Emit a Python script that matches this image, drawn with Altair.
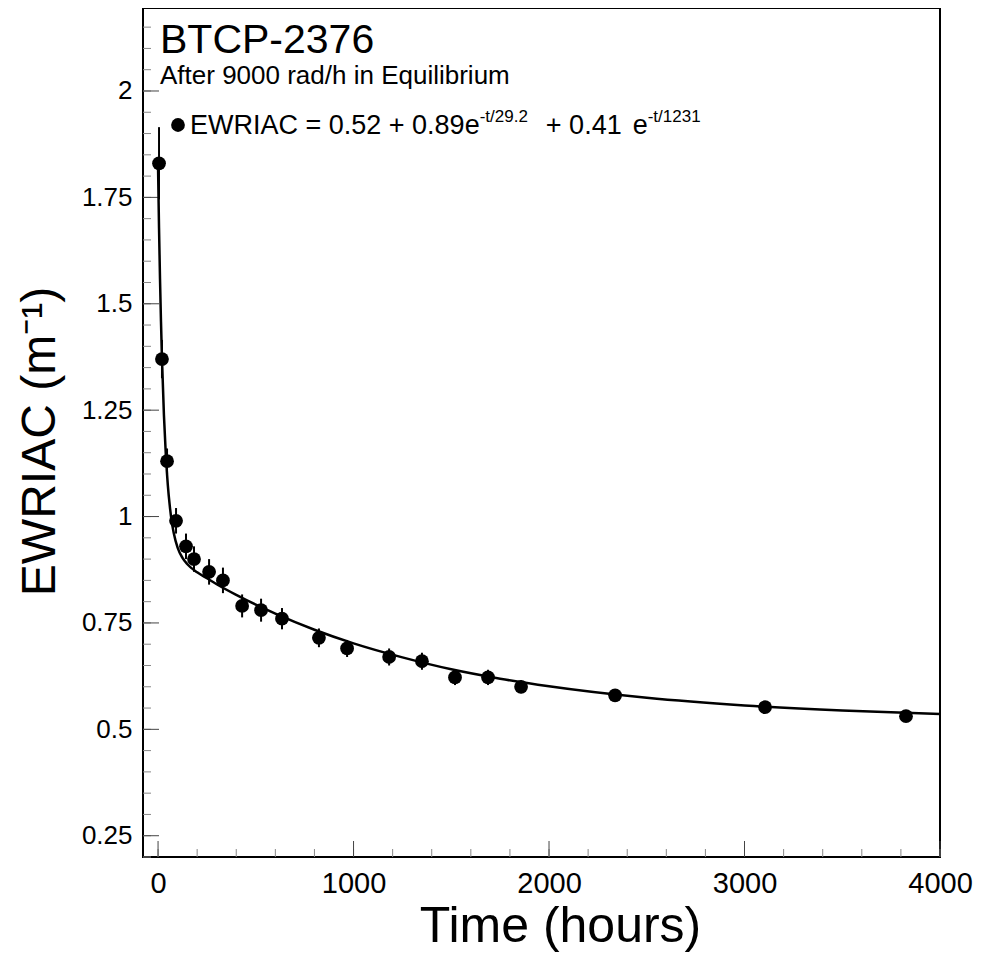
import altair as alt
import pandas as pd

# ---- data ----
time_h = [5, 20, 46, 92, 143, 184, 261, 332, 430, 527, 634, 823, 967, 1182,
          1350, 1519, 1688, 1857, 2338, 3105, 3826]
ewriac = [1.83, 1.37, 1.13, 0.99, 0.93, 0.90, 0.87, 0.85, 0.79, 0.78, 0.76,
          0.715, 0.69, 0.67, 0.66, 0.622, 0.622, 0.60, 0.58, 0.552, 0.531]
ewriac_err = [0.085, 0.045, 0.03, 0.03, 0.03, 0.03, 0.03, 0.03, 0.027, 0.027,
              0.025, 0.022, 0.02, 0.02, 0.02, 0.018, 0.018, 0.015, 0.013, 0.01, 0.01]

# fitted curve as drawn
fit_t = [0, 5, 10, 15, 20, 30, 40, 50, 60, 70, 80, 100, 125, 150, 200, 250, 300,
         400, 500, 600, 800, 1000, 1250, 1500, 1750, 2000, 2500, 3000, 3500, 4000]
fit_y = [1.820, 1.678, 1.559, 1.458, 1.372, 1.239, 1.143, 1.074, 1.025, 0.988,
         0.962, 0.927, 0.903, 0.888, 0.869, 0.855, 0.841, 0.816, 0.793, 0.772,
         0.734, 0.702, 0.669, 0.641, 0.619, 0.601, 0.574, 0.556, 0.544, 0.536]

y_major = [0.25, 0.5, 0.75, 1.0, 1.25, 1.5, 1.75, 2.0]
y_minor = [round(0.2 + 0.05 * i, 2) for i in range(40)]
x_major = [0, 1000, 2000, 3000, 4000]
x_minor = list(range(0, 4001, 200))

title_text = "BTCP-2376"
subtitle_text = "After 9000 rad/h in Equilibrium"
legend_parts = ["EWRIAC = 0.52 + 0.89e", "-t/29.2", "+ 0.41", "e", "-t/1231"]

FONT = "Liberation Sans"
W, H = 797, 849
xs = alt.Scale(domain=[-77, 4000], nice=False, zero=False)
ys = alt.Scale(domain=[0.2, 2.195], nice=False, zero=False)

X_AXIS = alt.Axis(
    values=x_major, format="d", tickSize=0, domain=False, grid=False,
    labelFont=FONT, labelFontSize=29, labelColor="black", labelPadding=12,
    labelFlush=False, labelOverlap=False,
    title="Time (hours)", titleFont=FONT, titleFontSize=50, titleFontWeight="normal",
    titleColor="black", titleAlign="center", titleAnchor="start", titleX=417, titleY=84,
    titleBaseline="alphabetic")
Y_AXIS = alt.Axis(
    values=y_major, format=".2~f", tickSize=0, domain=False, grid=False,
    labelFont=FONT, labelFontSize=26, labelColor="black", labelPadding=11,
    labelFlush=False, labelOverlap=False,
    title="EWRIAC (m\u207b\u00b9)", titleFont=FONT, titleFontSize=48,
    titleFontWeight="normal", titleColor="black", titleAngle=270,
    titleAlign="center", titleAnchor="start", titleX=-103, titleY=433,
    titleBaseline="middle")

AW = {' ': 278, '-': 333, '.': 278, '/': 278, '=': 584, '+': 584, 'e': 556, 't': 278,
      'E': 667, 'W': 944, 'R': 722, 'I': 278, 'A': 667, 'C': 722}


def tw(s, size):
    return sum(AW.get(c, 556) for c in s) * size / 1000.0


df = pd.DataFrame({"t": time_h, "v": ewriac, "e": ewriac_err})
fit = pd.DataFrame({"t": fit_t, "v": fit_y})
one = pd.DataFrame({"a": [0]})


def X(f):
    return alt.X(f, type="quantitative", scale=xs, axis=X_AXIS)


def Y(f):
    return alt.Y(f, type="quantitative", scale=ys, axis=Y_AXIS)


points = alt.Chart(df).mark_circle(size=190, color="black", opacity=1).encode(
    x=X("t"), y=Y("v"))

errbars = alt.Chart(df).transform_calculate(
    lo="datum.v - datum.e", hi="datum.v + datum.e"
).mark_rule(color="black", strokeWidth=2).encode(
    x=X("t"), y=Y("lo"), y2="hi:Q")

curve = alt.Chart(fit).mark_line(color="black", strokeWidth=2.5, interpolate="monotone").encode(
    x=X("t"), y=Y("v"))

ymaj = alt.Chart(pd.DataFrame({"v": y_major})).mark_rule(color="#444", strokeWidth=1).encode(
    y=Y("v"), x=alt.value(0), x2=alt.value(16))
ymin = alt.Chart(pd.DataFrame({"v": y_minor})).mark_rule(color="#888", strokeWidth=1).encode(
    y=Y("v"), x=alt.value(0), x2=alt.value(8))
xmaj = alt.Chart(pd.DataFrame({"t": x_major})).mark_rule(color="#444", strokeWidth=1).encode(
    x=X("t"), y=alt.value(H), y2=alt.value(H - 16))
xmin = alt.Chart(pd.DataFrame({"t": x_minor})).mark_rule(color="#888", strokeWidth=1).encode(
    x=X("t"), y=alt.value(H), y2=alt.value(H - 8))

# ---- texts ----
t1 = alt.Chart(one).mark_text(text=title_text, font=FONT, fontSize=41, align="left",
                              baseline="alphabetic", color="black").encode(
    x=alt.value(17), y=alt.value(45))
t2 = alt.Chart(one).mark_text(text=subtitle_text, font=FONT, fontSize=26, align="left",
                              baseline="alphabetic", color="black").encode(
    x=alt.value(17), y=alt.value(76))

MAIN, SUP = 27, 17
base_y = 126
sup_y = base_y - 12
x0 = 47
x_sup1 = x0 + tw(legend_parts[0], MAIN)
x_plus = x_sup1 + tw(legend_parts[1], SUP) + 18
x_e = x_plus + tw(legend_parts[2], MAIN) + 11
x_sup2 = x_e + tw(legend_parts[3], MAIN)

bullet = alt.Chart(one).mark_circle(size=190, color="black", opacity=1).encode(
    x=alt.value(35), y=alt.value(117))


def seg(txt, x, y, size):
    return alt.Chart(one).mark_text(text=txt, font=FONT, fontSize=size, align="left",
                                    baseline="alphabetic", color="black").encode(
        x=alt.value(x), y=alt.value(y))


legend = [
    seg(legend_parts[0], x0, base_y, MAIN),
    seg(legend_parts[1], x_sup1, sup_y, SUP),
    seg(legend_parts[2], x_plus, base_y, MAIN),
    seg(legend_parts[3], x_e, base_y, MAIN),
    seg(legend_parts[4], x_sup2, sup_y, SUP),
]

chart = alt.layer(
    ymin, ymaj, xmin, xmaj, curve, errbars, points, t1, t2, bullet, *legend
).properties(
    width=W, height=H,
    autosize=alt.AutoSizeParams(type="none"),
    padding={"left": 135, "top": 0, "right": 35, "bottom": 95},
    background="white",
).configure_view(stroke="black", strokeWidth=2)

chart.save("out.html", embed_options={"renderer": "svg", "actions": False})
